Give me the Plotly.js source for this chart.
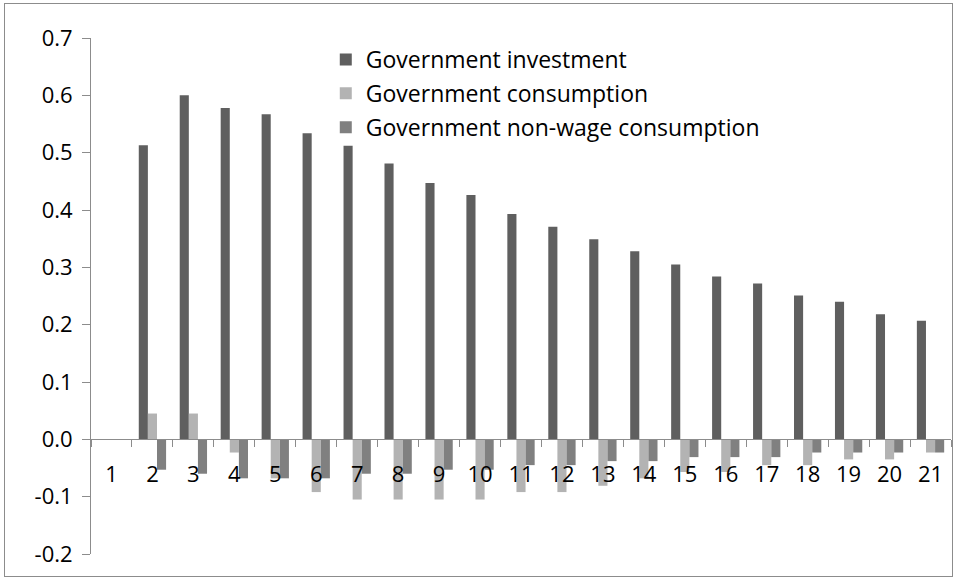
<!DOCTYPE html>
<html>
<head>
<meta charset="utf-8">
<script src="https://cdn.plot.ly/plotly-3.0.1.min.js"></script>
<style>
  html, body { margin: 0; padding: 0; background: #fff; }
  #frame { position: absolute; left: 4px; top: 3px; width: 949px; height: 574px; border: 1px solid #8c8c8c; box-sizing: border-box; }
  #chart { position: absolute; left: 0; top: 0; width: 954px; height: 578px; }
</style>
</head>
<body>
<div id="frame"></div>
<div id="chart"></div>
<script>
const periods = ["1","2","3","4","5","6","7","8","9","10","11","12","13","14","15","16","17","18","19","20","21"];
const govInvestment = [0, 0.513, 0.600, 0.578, 0.567, 0.534, 0.512, 0.481, 0.447, 0.426, 0.393, 0.371, 0.349, 0.328, 0.305, 0.284, 0.272, 0.251, 0.240, 0.218, 0.207];
const govConsumption = [0, 0.045, 0.045, -0.023, -0.068, -0.092, -0.105, -0.105, -0.105, -0.105, -0.092, -0.092, -0.081, -0.068, -0.057, -0.057, -0.045, -0.045, -0.035, -0.035, -0.023];
const govNonWage = [0, -0.053, -0.060, -0.068, -0.068, -0.068, -0.060, -0.060, -0.053, -0.053, -0.045, -0.045, -0.038, -0.038, -0.031, -0.031, -0.031, -0.023, -0.023, -0.023, -0.023];
const seriesNames = ["Government investment", "Government consumption", "Government non-wage consumption"];
const yTicks = [-0.2, -0.1, 0.0, 0.1, 0.2, 0.3, 0.4, 0.5, 0.6, 0.7];
const yTickText = yTicks.map(v => v.toFixed(1));

const colors = ["#5f5f5f", "#b3b3b3", "#808080"];
const font = "Open Sans, sans-serif";
const fs = 22;
const series = [govInvestment, govConsumption, govNonWage];

const data = series.map((vals, i) => ({
  type: "bar",
  x: periods,
  y: vals,
  name: seriesNames[i],
  legendgroup: "g" + i,
  marker: { color: colors[i], line: { width: 0 } },
  hoverinfo: "x+y"
}));

const layout = {
  width: 954,
  height: 578,
  margin: { l: 91, r: 2.5, t: 38, b: 24.4 },
  paper_bgcolor: "rgba(0,0,0,0)",
  plot_bgcolor: "rgba(0,0,0,0)",
  barmode: "group",
  bargap: 0.333,
  bargroupgap: 0,
  font: { family: font, size: fs, color: "#000" },
  showlegend: true,
  legend: {
    x: 0.273, y: 1.0, xanchor: "left", yanchor: "top",
    bgcolor: "rgba(0,0,0,0)",
    font: { family: font, size: 23, color: "#000" },
    traceorder: "grouped",
    tracegroupgap: 1
  },
  xaxis: {
    type: "category",
    anchor: "free",
    position: 2 / 9,
    showline: true, linecolor: "#8c8c8c", linewidth: 1,
    ticks: "outside", ticklen: 7, tickcolor: "#8c8c8c",
    tickson: "boundaries",
    showgrid: false, zeroline: false,
    ticklabelstandoff: 15,
    tickfont: { family: font, size: fs, color: "#000" }
  },
  yaxis: {
    range: [-0.2, 0.7],
    tickvals: yTicks,
    ticktext: yTickText,
    showline: true, linecolor: "#8c8c8c", linewidth: 1,
    ticks: "outside", ticklen: 8, tickcolor: "#8c8c8c",
    showgrid: false, zeroline: false,
    ticklabelstandoff: 5,
    tickfont: { family: font, size: fs, color: "#000" }
  }
};

Plotly.newPlot("chart", data, layout, { displayModeBar: false, staticPlot: true });
</script>
</body>
</html>
